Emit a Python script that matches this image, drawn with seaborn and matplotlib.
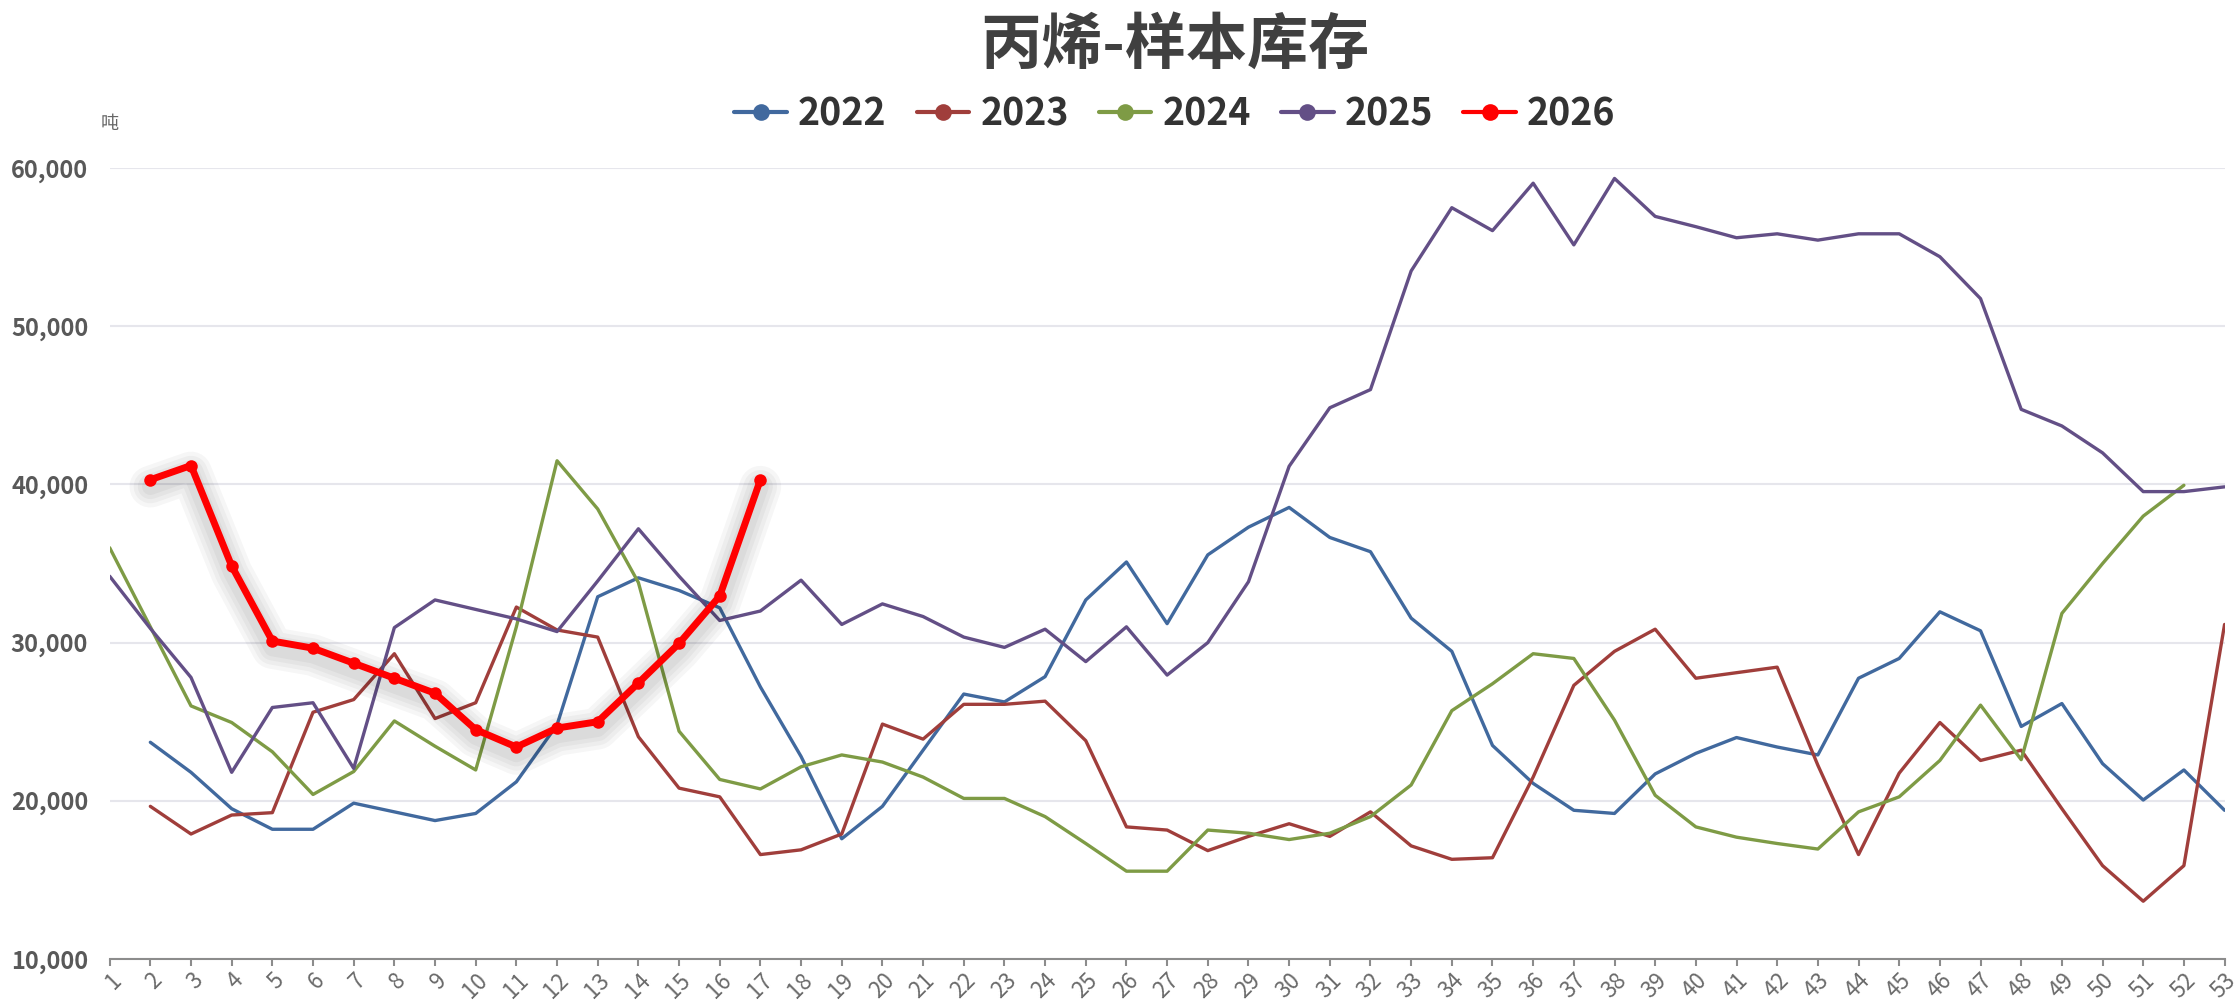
import numpy as np
import pandas as pd
import matplotlib
matplotlib.use('Agg')
import matplotlib.pyplot as plt
import matplotlib.patheffects as pe
from matplotlib.lines import Line2D
from matplotlib.ticker import FuncFormatter
import seaborn as sns

nan = np.nan

# week numbers
weeks = list(range(1, 54))

# 丙烯样本库存 (吨)
y2022 = [nan, 23700, 21800, 19500, 18200, 18200, 19850, 19300, 18750, 19200,
         21200, 24800, 32900, 34100, 33300, 32200, 27200, 22800, 17600, 19650,
         23200, 26750, 26250, 27850, 32700, 35100, 31200, 35550, 37300, 38550,
         36650, 35750, 31550, 29450, 23500, 21100, 19400, 19200, 21700, 23000,
         24000, 23400, 22900, 27750, 29000, 31950, 30750, 24700, 26150, 22350,
         20050, 21950, 19400]
y2023 = [nan, 19650, 17900, 19100, 19250, 25600, 26400, 29300, 25200, 26200,
         32250, 30800, 30350, 24050, 20800, 20250, 16600, 16900, 17900, 24850,
         23900, 26100, 26100, 26300, 23800, 18350, 18150, 16850, 17750, 18550,
         17750, 19300, 17150, 16300, 16400, 21500, 27300, 29450, 30850, 27750,
         28100, 28450, 22250, 16600, 21750, 24950, 22550, 23200, 19500, 15900,
         13650, 15900, 31150]
y2024 = [36000, 31000, 26000, 24950, 23100, 20400, 21850, 25050, 23450, 21950,
         31000, 41500, 38450, 33800, 24400, 21350, 20750, 22150, 22900, 22450,
         21500, 20150, 20150, 19000, 17300, 15550, 15550, 18150, 17950, 17550,
         17950, 19000, 21000, 25700, 27400, 29300, 29000, 25100, 20350, 18350,
         17700, 17300, 16950, 19300, 20250, 22550, 26050, 22600, 31850, 35000,
         38000, 39950, nan]
y2025 = [34200, 30900, 27800, 21800, 25900, 26200, 22050, 30950, 32700, 32100,
         31500, 30700, 33900, 37200, 34200, 31400, 32000, 33950, 31150, 32450,
         31650, 30350, 29700, 30850, 28800, 31000, 27950, 30000, 33850, 41150,
         44850, 46000, 53500, 57500, 56050, 59050, 55150, 59350, 56950, 56300,
         55600, 55850, 55450, 55850, 55850, 54400, 51750, 44750, 43700, 42000,
         39550, 39550, 39850]
y2026 = [nan, 40300, 41200, 34850, 30100, 29650, 28700, 27750, 26800, 24500,
         23400, 24600, 25000, 27450, 29950, 32950, 40300] + [nan] * 36

years = ['2022', '2023', '2024', '2025', '2026']
series = [y2022, y2023, y2024, y2025, y2026]
colors = ['#41699E', '#A03E3B', '#7E9B45', '#634F86', '#FF0000']

sns.set_style('white')
plt.rcParams['font.family'] = ['Noto Sans CJK SC', 'DejaVu Sans']

fig, ax = plt.subplots(figsize=(22.38, 10.01), dpi=100)
fig.subplots_adjust(left=0.049, right=0.994, top=0.832, bottom=0.042)

# soft shadow under the current-year line
shadow = [pe.SimpleLineShadow(offset=(0, -5), shadow_color='#000000', alpha=0.035, linewidth=w)
          for w in (30, 24, 18, 12)]

for yr, vals, c in zip(years, series, colors):
    df = pd.DataFrame({'week': weeks, 'value': vals}).dropna()
    if yr == '2026':
        sns.lineplot(data=df, x='week', y='value', ax=ax, color=c, linewidth=5,
                     zorder=10, path_effects=shadow + [pe.Normal()])
        sns.lineplot(data=df, x='week', y='value', ax=ax, color=c, linewidth=0,
                     marker='o', markersize=9, markeredgewidth=0, zorder=11)
    else:
        sns.lineplot(data=df, x='week', y='value', ax=ax, color=c, linewidth=2.4)

ax.set_xlim(1, 53)
ax.set_ylim(10000, 60000)
ax.set_yticks(range(10000, 60001, 10000))
ax.yaxis.set_major_formatter(FuncFormatter(lambda v, p: f'{int(v):,}'))
ax.set_xticks(weeks)
ax.set_xticklabels([str(w) for w in weeks], rotation=45, ha='right',
                   rotation_mode='anchor')
ax.set_xlabel('')
ax.set_ylabel('')

ax.grid(axis='y', color='#E6E6EC', linewidth=1.5)
ax.grid(axis='x', visible=False)
for s in ['top', 'right', 'left']:
    ax.spines[s].set_visible(False)
ax.spines['bottom'].set_color('#8C8C8C')
ax.spines['bottom'].set_linewidth(1.5)
ax.tick_params(axis='x', bottom=True, length=5, width=1.5, color='#8C8C8C',
               labelsize=16, labelcolor='#6A6A6A', pad=2)
ax.tick_params(axis='y', left=False, labelsize=17, labelcolor='#595959', pad=12)
for lbl in ax.get_yticklabels():
    lbl.set_fontweight('bold')

fig.text(0.049, 0.876, '吨', fontsize=13, color='#666666', ha='center', va='center')
fig.text(0.525, 0.954, '丙烯-样本库存', fontsize=44, fontweight='bold',
         color='#404040', ha='center', va='center')

handles = [Line2D([0], [0], color=c, linewidth=3, marker='o', markersize=12,
                  markeredgewidth=0) for c in colors]
leg = fig.legend(handles, years, loc='center', bbox_to_anchor=(0.525, 0.886),
                 ncol=5, frameon=False, fontsize=27, handlelength=1.4,
                 handletextpad=0.3, columnspacing=0.8)
for t in leg.get_texts():
    t.set_fontweight('bold')
    t.set_color('#333333')

plt.savefig('out.png', dpi=100)
